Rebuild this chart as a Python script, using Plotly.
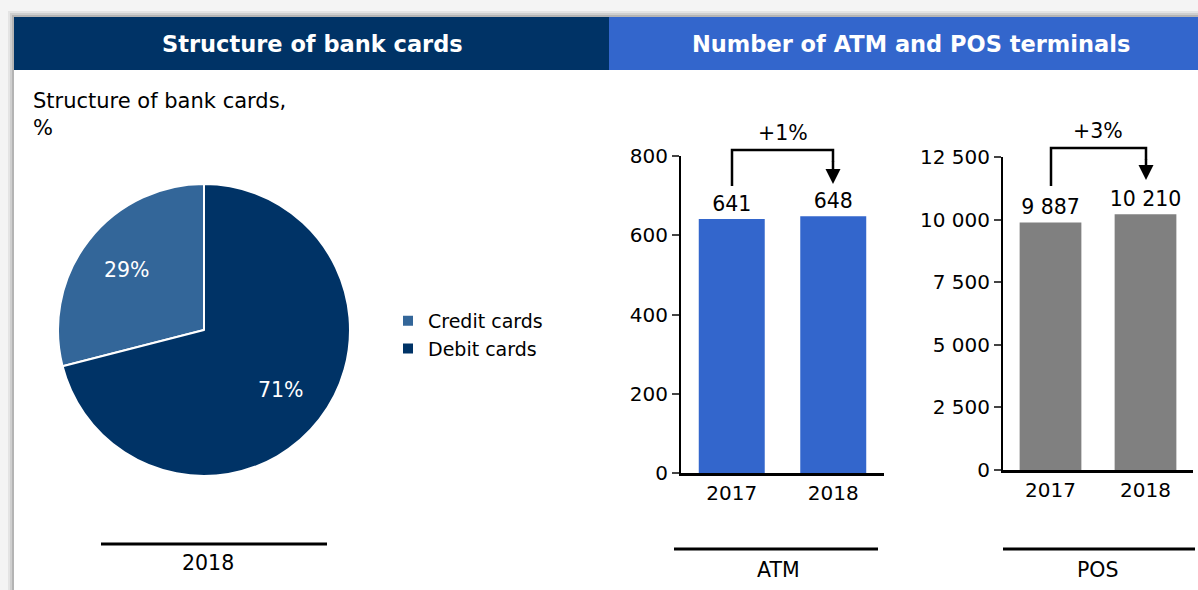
import math
import plotly.graph_objects as go

W, H = 1198, 590

# ---------------------------
# Data
# ---------------------------
card_labels = ["Credit cards", "Debit cards"]
card_shares = [29, 71]
card_colors = ["#336699", "#003366"]

years = ["2017", "2018"]
atm_values = [641, 648]
pos_values = [9887, 10210]
atm_growth = "+1%"
pos_growth = "+3%"


def px_x(v):
    return v / W


def px_y(v):
    return 1 - v / H


FONT = "DejaVu Sans"
TXT = 20.5

fig = go.Figure()

# ---------------------------
# Pie chart
# ---------------------------
PIE_CX, PIE_CY, PIE_R = 204, 330, 146
fig.add_trace(go.Pie(
    labels=card_labels,
    values=card_shares,
    sort=False,
    direction="clockwise",
    rotation=-360 * card_shares[0] / sum(card_shares),
    marker=dict(colors=card_colors, line=dict(color="white", width=2)),
    textinfo="none",
    domain=dict(x=[px_x(PIE_CX - PIE_R), px_x(PIE_CX + PIE_R)],
                y=[px_y(PIE_CY + PIE_R), px_y(PIE_CY - PIE_R)]),
    hoverinfo="label+percent",
))

# pie labels placed along each slice's mid angle (counterclockwise from 12 o'clock)
pie_labels = []
start = 90.0
total = sum(card_shares)
for v in card_shares:
    sweep = 360 * v / total
    mid = math.radians(start + sweep / 2)
    pie_labels.append(dict(
        text=f"{v}%",
        x=px_x(PIE_CX + 0.67 * PIE_R * math.cos(mid)),
        y=px_y(PIE_CY - 0.67 * PIE_R * math.sin(mid)),
        font=dict(size=TXT, color="white", family=FONT),
    ))
    start += sweep

# ---------------------------
# ATM / POS bars
# ---------------------------
fig.add_trace(go.Bar(
    x=years, y=atm_values, width=0.65,
    marker=dict(color="#3366CC", line=dict(width=0)),
    texttemplate="%{y:,d}", textposition="outside", cliponaxis=False,
    constraintext="none",
    textfont=dict(color="black", size=TXT, family=FONT),
    xaxis="x", yaxis="y", showlegend=False,
))
fig.add_trace(go.Bar(
    x=years, y=pos_values, width=0.65,
    marker=dict(color="#808080", line=dict(width=0)),
    texttemplate="%{y:,d}", textposition="outside", cliponaxis=False,
    constraintext="none",
    textfont=dict(color="black", size=TXT, family=FONT),
    xaxis="x2", yaxis="y2", showlegend=False,
))

axis_common = dict(
    showgrid=False, zeroline=False, showline=True, linecolor="black",
    automargin=False,
    tickfont=dict(size=20, family=FONT, color="black"),
)

fig.update_layout(
    xaxis=dict(domain=[px_x(681), px_x(884)], type="category", linewidth=3,
               ticks="", anchor="y", **axis_common),
    yaxis=dict(domain=[px_y(473), px_y(156)], range=[0, 800], dtick=200,
               linewidth=2, ticks="outside", ticklen=7, tickwidth=2,
               tickformat=",d", anchor="x", **axis_common),
    xaxis2=dict(domain=[px_x(1003), px_x(1193)], type="category", linewidth=3,
                ticks="", anchor="y2", **axis_common),
    yaxis2=dict(domain=[px_y(470), px_y(157)], range=[0, 12500], dtick=2500,
                linewidth=2, ticks="outside", ticklen=7, tickwidth=2,
                tickformat=",d", anchor="x2", **axis_common),
)

# ---------------------------
# Background, headers, decorations
# ---------------------------
shapes = []
for off, col in [(6, "#e4e4e4"), (4, "#cfcfcf"), (2, "#b4b4b4")]:
    shapes.append(dict(type="rect", xref="paper", yref="paper", layer="below",
                       x0=px_x(14 - off), x1=1, y0=0, y1=px_y(17 - off),
                       fillcolor=col, line=dict(width=0)))
shapes.append(dict(type="rect", xref="paper", yref="paper", layer="below",
                   x0=px_x(14), x1=1, y0=0, y1=px_y(17),
                   fillcolor="white", line=dict(width=0)))
shapes.append(dict(type="rect", xref="paper", yref="paper", layer="below",
                   x0=px_x(14), x1=px_x(609), y0=px_y(70), y1=px_y(17),
                   fillcolor="#003366", line=dict(width=0)))
shapes.append(dict(type="rect", xref="paper", yref="paper", layer="below",
                   x0=px_x(609), x1=1, y0=px_y(70), y1=px_y(17),
                   fillcolor="#3366CC", line=dict(width=0)))

# underline lines
for x0, x1, y in [(101, 327, 544), (674, 878, 549), (1003, 1195, 549)]:
    shapes.append(dict(type="line", xref="paper", yref="paper",
                       x0=px_x(x0), x1=px_x(x1), y0=px_y(y), y1=px_y(y),
                       line=dict(color="black", width=3)))

# growth brackets
for xa, xb, ytop, ybot in [(732, 833, 150, 186), (1051, 1146, 148, 186)]:
    shapes.append(dict(type="path", xref="paper", yref="paper",
                       path=f"M {px_x(xa)},{px_y(ybot)} L {px_x(xa)},{px_y(ytop)} "
                            f"L {px_x(xb)},{px_y(ytop)} L {px_x(xb)},{px_y(ytop + 12)}",
                       line=dict(color="black", width=2.5)))

fig.update_layout(shapes=shapes)

annotations = [
    dict(text="<b>Structure of bank cards</b>", x=px_x(312), y=px_y(44),
         font=dict(size=22.5, color="white", family=FONT)),
    dict(text="<b>Number of ATM and POS terminals</b>", x=px_x(911), y=px_y(44),
         font=dict(size=22.5, color="white", family=FONT)),
    dict(text="Structure of bank cards,<br>%", x=px_x(31), y=px_y(87),
         xanchor="left", yanchor="top", align="left",
         font=dict(size=21, color="black", family=FONT)),
    dict(text="2018", x=px_x(208), y=px_y(563),
         font=dict(size=TXT, color="black", family=FONT)),
    dict(text="ATM", x=px_x(778), y=px_y(570),
         font=dict(size=TXT, color="black", family=FONT)),
    dict(text="POS", x=px_x(1098), y=px_y(570),
         font=dict(size=TXT, color="black", family=FONT)),
    dict(text=atm_growth, x=px_x(783), y=px_y(133),
         font=dict(size=TXT, color="black", family=FONT)),
    dict(text=pos_growth, x=px_x(1098), y=px_y(131),
         font=dict(size=TXT, color="black", family=FONT)),
] + pie_labels
for a in annotations:
    a.setdefault("xref", "paper")
    a.setdefault("yref", "paper")
    a.setdefault("xanchor", "center")
    a.setdefault("yanchor", "middle")
    a.setdefault("showarrow", False)

# arrow heads
for xb, ytip, ystart in [(833, 184, 160), (1146, 180, 158)]:
    annotations.append(dict(x=px_x(xb), y=px_y(ytip), xref="paper", yref="paper",
                            ax=0, ay=-(ytip - ystart), text="", showarrow=True,
                            arrowhead=2, arrowsize=1.2, arrowwidth=2.5,
                            arrowcolor="black"))

fig.update_layout(
    template="none",
    annotations=annotations,
    width=W, height=H,
    autosize=False,
    margin=dict(l=0, r=0, t=0, b=0, pad=0),
    paper_bgcolor="#f4f4f4",
    plot_bgcolor="rgba(0,0,0,0)",
    font=dict(family=FONT, color="black"),
    separators=". ",
    showlegend=True,
    legend=dict(x=px_x(388), y=px_y(302), xanchor="left", yanchor="top",
                font=dict(size=19, family=FONT, color="black"),
                bgcolor="rgba(0,0,0,0)", tracegroupgap=0, itemwidth=30),
    bargap=0.35,
)

fig.write_html("out.html", config={"displayModeBar": False},
               post_script="document.body.style.margin='0';")
